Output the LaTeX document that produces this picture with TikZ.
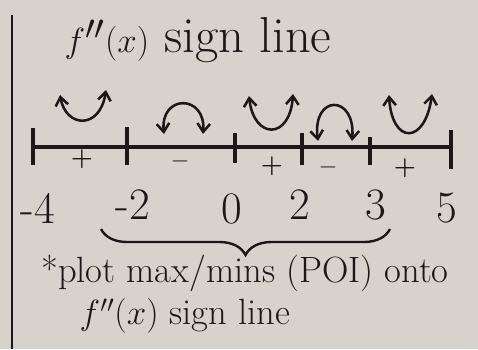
\documentclass[tikz,border=0pt]{standalone}
\usepackage{amsmath}
\usepackage{tikz}
\usetikzlibrary{arrows.meta, positioning, calc, decorations.pathreplacing}
\definecolor{paper}{RGB}{215,211,204}
\definecolor{ink}{RGB}{28,24,24}

\begin{document}
\begin{tikzpicture}[x=0.25mm, y=-0.25mm, color=ink,
                title/.style={font=\fontsize{36}{36}\selectfont},
                num/.style={font=\fontsize{32}{32}\selectfont},
                sgn/.style={font=\fontsize{18}{18}\selectfont\bfseries},
                note/.style={font=\fontsize{26}{26}\selectfont},
                tick/.style={line width=2.2pt},
                concav/.style={line width=1.8pt, {Straight Barb[length=6pt,width=9pt]}-{Straight Barb[length=6pt,width=9pt]}}]

                \fill[paper] (0,0) rectangle (478,349);
                \useasboundingbox (0,0) rectangle (478,349);
                \draw[line width=1pt] (12,15) -- (12,349);

                \node[title] (title) at (198,40) {$f''(x)$ sign line};

                % number line
                \coordinate (t1) at (33,147);
                \coordinate (t2) at (127,147);
                \coordinate (t3) at (235,147);
                \coordinate (t4) at (302,147);
                \coordinate (t5) at (370,147);
                \coordinate (t6) at (451,147);
                \draw[line width=2.4pt] (t1) -- (t6);
                \draw[tick] ($(t1)+(0,-19)$) -- ($(t1)+(0,18)$);
                \draw[tick] ($(t2)+(0,-20)$) -- ($(t2)+(0,18)$);
                \draw[tick] ($(t3)+(0,-14)$) -- ($(t3)+(0,16)$);
                \draw[tick] ($(t4)+(0,-14)$) -- ($(t4)+(0,18)$);
                \draw[tick] ($(t5)+(0,-10)$) -- ($(t5)+(0,18)$);
                \draw[tick] ($(t6)+(0,-17)$) -- ($(t6)+(0,22)$);

                % concavity
                \draw[concav] (60,95) .. controls (66,128) and (100,130) .. (106,90);
                \draw[concav] (164,134) .. controls (160,94) and (206,94) .. (203,134);
                \draw[concav] (249,96) .. controls (254,140) and (290,140) .. (293,94);
                \draw[concav] (318,141) .. controls (312,94) and (356,94) .. (352,141);
                \draw[concav] (389,95) .. controls (392,145) and (425,145) .. (432,94);

                \node[sgn] (s1) at (82,159) {+};
                \node[sgn] (s2) at (180,161) {$-$};
                \node[sgn] (s3) at (272,166) {+};
                \node[sgn] (s4) at (328,167) {$-$};
                \node[sgn] (s5) at (405,168) {+};

                \node[num] (n1) at (38,208) {-4};
                \node[num] (n2) at (133,205) {-2};
                \node[num] (n3) at (232,209) {0};
                \node[num] (n4) at (300,205) {2};
                \node[num] (n5) at (376,205) {3};
                \node[num] (n6) at (447,208) {5};

                \coordinate (bl) at (101,229);
                \coordinate (br) at (390,229);
                \draw[line width=1.7pt, decorate, decoration={brace, mirror, amplitude=6.5mm}] (bl) -- (br);

                \node[note] (note1) at (245,273) {*plot max/mins (POI) onto};
                \node[note] (note2) at (185,316) {$f''(x)$ sign line};
            \end{tikzpicture}
\end{document}
